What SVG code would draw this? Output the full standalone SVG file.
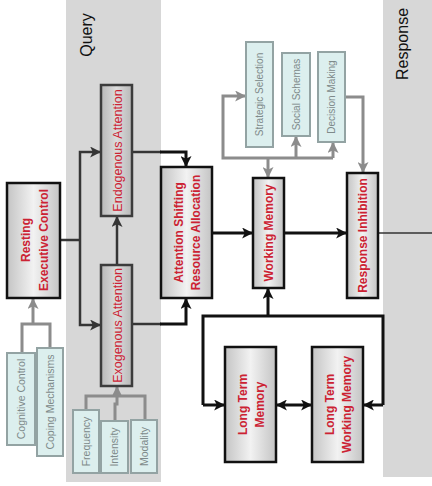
<svg xmlns="http://www.w3.org/2000/svg" width="432" height="486" viewBox="0 0 432 486">
<defs>
<style>
.panel{fill:#d7d7d7}
.ptxt{font-family:"Liberation Sans",Arial,sans-serif;font-size:16px;fill:#111}
.bk{fill:url(#gBlack);stroke:#111;stroke-width:2.5}
.dg{fill:url(#gDark);stroke:#3c3c3c;stroke-width:2.5}
.lb{fill:#dcefee;stroke:#93a3a3;stroke-width:2}
.rt{font-family:"Liberation Sans",Arial,sans-serif;font-size:12px;font-weight:bold;fill:#cc2233;text-anchor:middle}
.rn{font-family:"Liberation Sans",Arial,sans-serif;font-size:12.5px;fill:#cc2233;text-anchor:middle}
.gt{font-family:"Liberation Sans",Arial,sans-serif;font-size:10.5px;fill:#7e8a8a;text-anchor:middle}
.cb{fill:none;stroke:#111;stroke-width:3}
.cd{fill:none;stroke:#353535;stroke-width:2.5}
.cg{fill:none;stroke:#8c8c8c;stroke-width:3}
.ct{fill:none;stroke:#333;stroke-width:1.5}
</style>
<linearGradient id="gBlack" x1="0" y1="0" x2="1" y2="0">
<stop offset="0" stop-color="#c4c4c4"/><stop offset="0.5" stop-color="#f2f2f2"/><stop offset="1" stop-color="#c4c4c4"/>
</linearGradient>
<linearGradient id="gDark" x1="0" y1="0" x2="1" y2="0">
<stop offset="0" stop-color="#b8b8b8"/><stop offset="0.5" stop-color="#dcdcdc"/><stop offset="1" stop-color="#b8b8b8"/>
</linearGradient>
<marker id="ab" viewBox="0 0 10 10" refX="9" refY="5" markerWidth="11" markerHeight="11" markerUnits="userSpaceOnUse" orient="auto-start-reverse">
<path d="M0,0 L10,5 L0,10 L2.5,5 z" fill="#111"/>
</marker>
<marker id="ad" viewBox="0 0 10 10" refX="9" refY="5" markerWidth="11" markerHeight="11" markerUnits="userSpaceOnUse" orient="auto">
<path d="M0,0 L10,5 L0,10 L2.5,5 z" fill="#353535"/>
</marker>
<marker id="ag" viewBox="0 0 10 10" refX="9" refY="5" markerWidth="11" markerHeight="11" markerUnits="userSpaceOnUse" orient="auto">
<path d="M0,0 L10,5 L0,10 L2.5,5 z" fill="#8c8c8c"/>
</marker>
</defs>

<rect width="432" height="486" fill="#ffffff"/>
<g id="panels">
<rect class="panel" x="66" y="0" width="95" height="482"/>
<rect class="panel" x="383" y="0" width="49" height="477"/>
<text class="ptxt" transform="translate(92,35) rotate(-90)" text-anchor="middle">Query</text>
<text class="ptxt" transform="translate(408,44) rotate(-90)" text-anchor="middle">Response</text>
</g>

<g id="connectors">
<!-- gray -->
<path class="cg" d="M22,353 V324 H50 V348"/>
<path class="cg" d="M33,324 V299" marker-end="url(#ag)"/>
<path class="cg" d="M86,410 V396 H145 V420 M115,421 V404 H117 V396"/>
<path class="cg" d="M117,396 V387" marker-end="url(#ag)"/>
<path class="cg" d="M333,158 H223 V96 H245" marker-end="url(#ag)"/>
<path class="cg" d="M296,158 V137" marker-end="url(#ag)"/>
<path class="cg" d="M333,158 V143" marker-end="url(#ag)"/>
<path class="cg" d="M268,158 V177" marker-end="url(#ag)"/>
<path class="cg" d="M345,97 H363 V172" marker-end="url(#ag)"/>
<!-- dark -->
<path class="cd" d="M60,240 H80"/>
<path class="cd" d="M80,240 V152 H100" marker-end="url(#ad)"/>
<path class="cd" d="M80,240 V325 H100" marker-end="url(#ad)"/>
<path class="cd" d="M117,265 V217" marker-end="url(#ad)"/>
<path class="cd" d="M132,152 H161"/>
<path class="cd" d="M132,324 H161"/>
<!-- black -->
<path class="cb" d="M160,152 H186 V166" marker-end="url(#ab)"/>
<path class="cb" d="M160,324 H186 V299" marker-end="url(#ab)"/>
<path class="cb" d="M212,233 H252" marker-end="url(#ab)"/>
<path class="cb" d="M284,233 H346" marker-end="url(#ab)"/>
<path class="ct" d="M378,233 H432"/>
<path class="cb" d="M268,316 V289" marker-end="url(#ab)"/>
<path class="cb" d="M203,405 V316 H383 V405"/>
<path class="cb" d="M203,405 H224" marker-end="url(#ab)"/>
<path class="cb" d="M383,405 H364" marker-end="url(#ab)"/>
<path class="cb" d="M277,405 H311" marker-start="url(#ab)" marker-end="url(#ab)"/>
</g>

<g id="resting">
<rect class="bk" x="7" y="183" width="53" height="115"/>
<text class="rt" transform="translate(33.5,240) rotate(-90)"><tspan x="0" y="-3.5">Resting</tspan><tspan x="0" y="14">Executive Control</tspan></text>
</g>
<g id="endogenous">
<rect class="dg" x="101" y="85" width="31" height="131"/>
<text class="rn" transform="translate(117,150.5) rotate(-90)" y="4.5">Endogenous Attention</text>
</g>
<g id="exogenous">
<rect class="dg" x="101" y="265" width="31" height="121"/>
<text class="rn" transform="translate(117,325.5) rotate(-90)" y="4.5">Exogenous Attention</text>
</g>
<g id="attention-shifting">
<rect class="bk" x="161" y="167" width="51" height="131"/>
<text class="rt" transform="translate(186.5,232.5) rotate(-90)"><tspan x="0" y="-3.5">Attention Shifting</tspan><tspan x="0" y="13">Resource Allocation</tspan></text>
</g>
<g id="working-memory">
<rect class="bk" x="253" y="178" width="31" height="110"/>
<text class="rt" transform="translate(268.5,233) rotate(-90)" y="4.3">Working Memory</text>
</g>
<g id="response-inhibition">
<rect class="bk" x="347" y="173" width="31" height="125"/>
<text class="rt" transform="translate(362.5,235.5) rotate(-90)" y="4.3">Response Inhibition</text>
</g>
<g id="long-term-memory">
<rect class="bk" x="225" y="347" width="51" height="115"/>
<text class="rt" transform="translate(250.5,404.5) rotate(-90)"><tspan x="0" y="-3.5">Long Term</tspan><tspan x="0" y="13">Memory</tspan></text>
</g>
<g id="long-term-working-memory">
<rect class="bk" x="312" y="347" width="51" height="115"/>
<text class="rt" transform="translate(337.5,404.5) rotate(-90)"><tspan x="0" y="-3.5">Long Term</tspan><tspan x="0" y="13">Working Memory</tspan></text>
</g>
<g id="cognitive-control">
<rect class="lb" x="7" y="353" width="28" height="92"/>
<text class="gt" transform="translate(21,399) rotate(-90)" y="3.8">Cognitive Control</text>
</g>
<g id="coping-mechanisms">
<rect class="lb" x="37" y="348" width="26" height="108"/>
<text class="gt" transform="translate(50,402) rotate(-90)" y="3.8">Coping Mechanisms</text>
</g>
<g id="frequency">
<rect class="lb" x="73" y="410" width="26" height="63"/>
<text class="gt" transform="translate(86,441.5) rotate(-90)" y="3.8">Frequency</text>
</g>
<g id="intensity">
<rect class="lb" x="101" y="421" width="27" height="52"/>
<text class="gt" transform="translate(114.5,447) rotate(-90)" y="3.8">Intensity</text>
</g>
<g id="modality">
<rect class="lb" x="131" y="420" width="26" height="53"/>
<text class="gt" transform="translate(144,446.5) rotate(-90)" y="3.8">Modality</text>
</g>
<g id="strategic-selection">
<rect class="lb" x="246" y="42" width="27" height="105"/>
<text class="gt" transform="translate(259.5,94.5) rotate(-90)" y="3.8" style="font-size:10px">Strategic Selection</text>
</g>
<g id="social-schemas">
<rect class="lb" x="282" y="53" width="28" height="83"/>
<text class="gt" transform="translate(296,94.5) rotate(-90)" y="3.8" style="font-size:10px">Social Schemas</text>
</g>
<g id="decision-making">
<rect class="lb" x="318" y="52" width="27" height="90"/>
<text class="gt" transform="translate(331.5,97) rotate(-90)" y="3.8" style="font-size:10px">Decision Making</text>
</g>
</svg>
